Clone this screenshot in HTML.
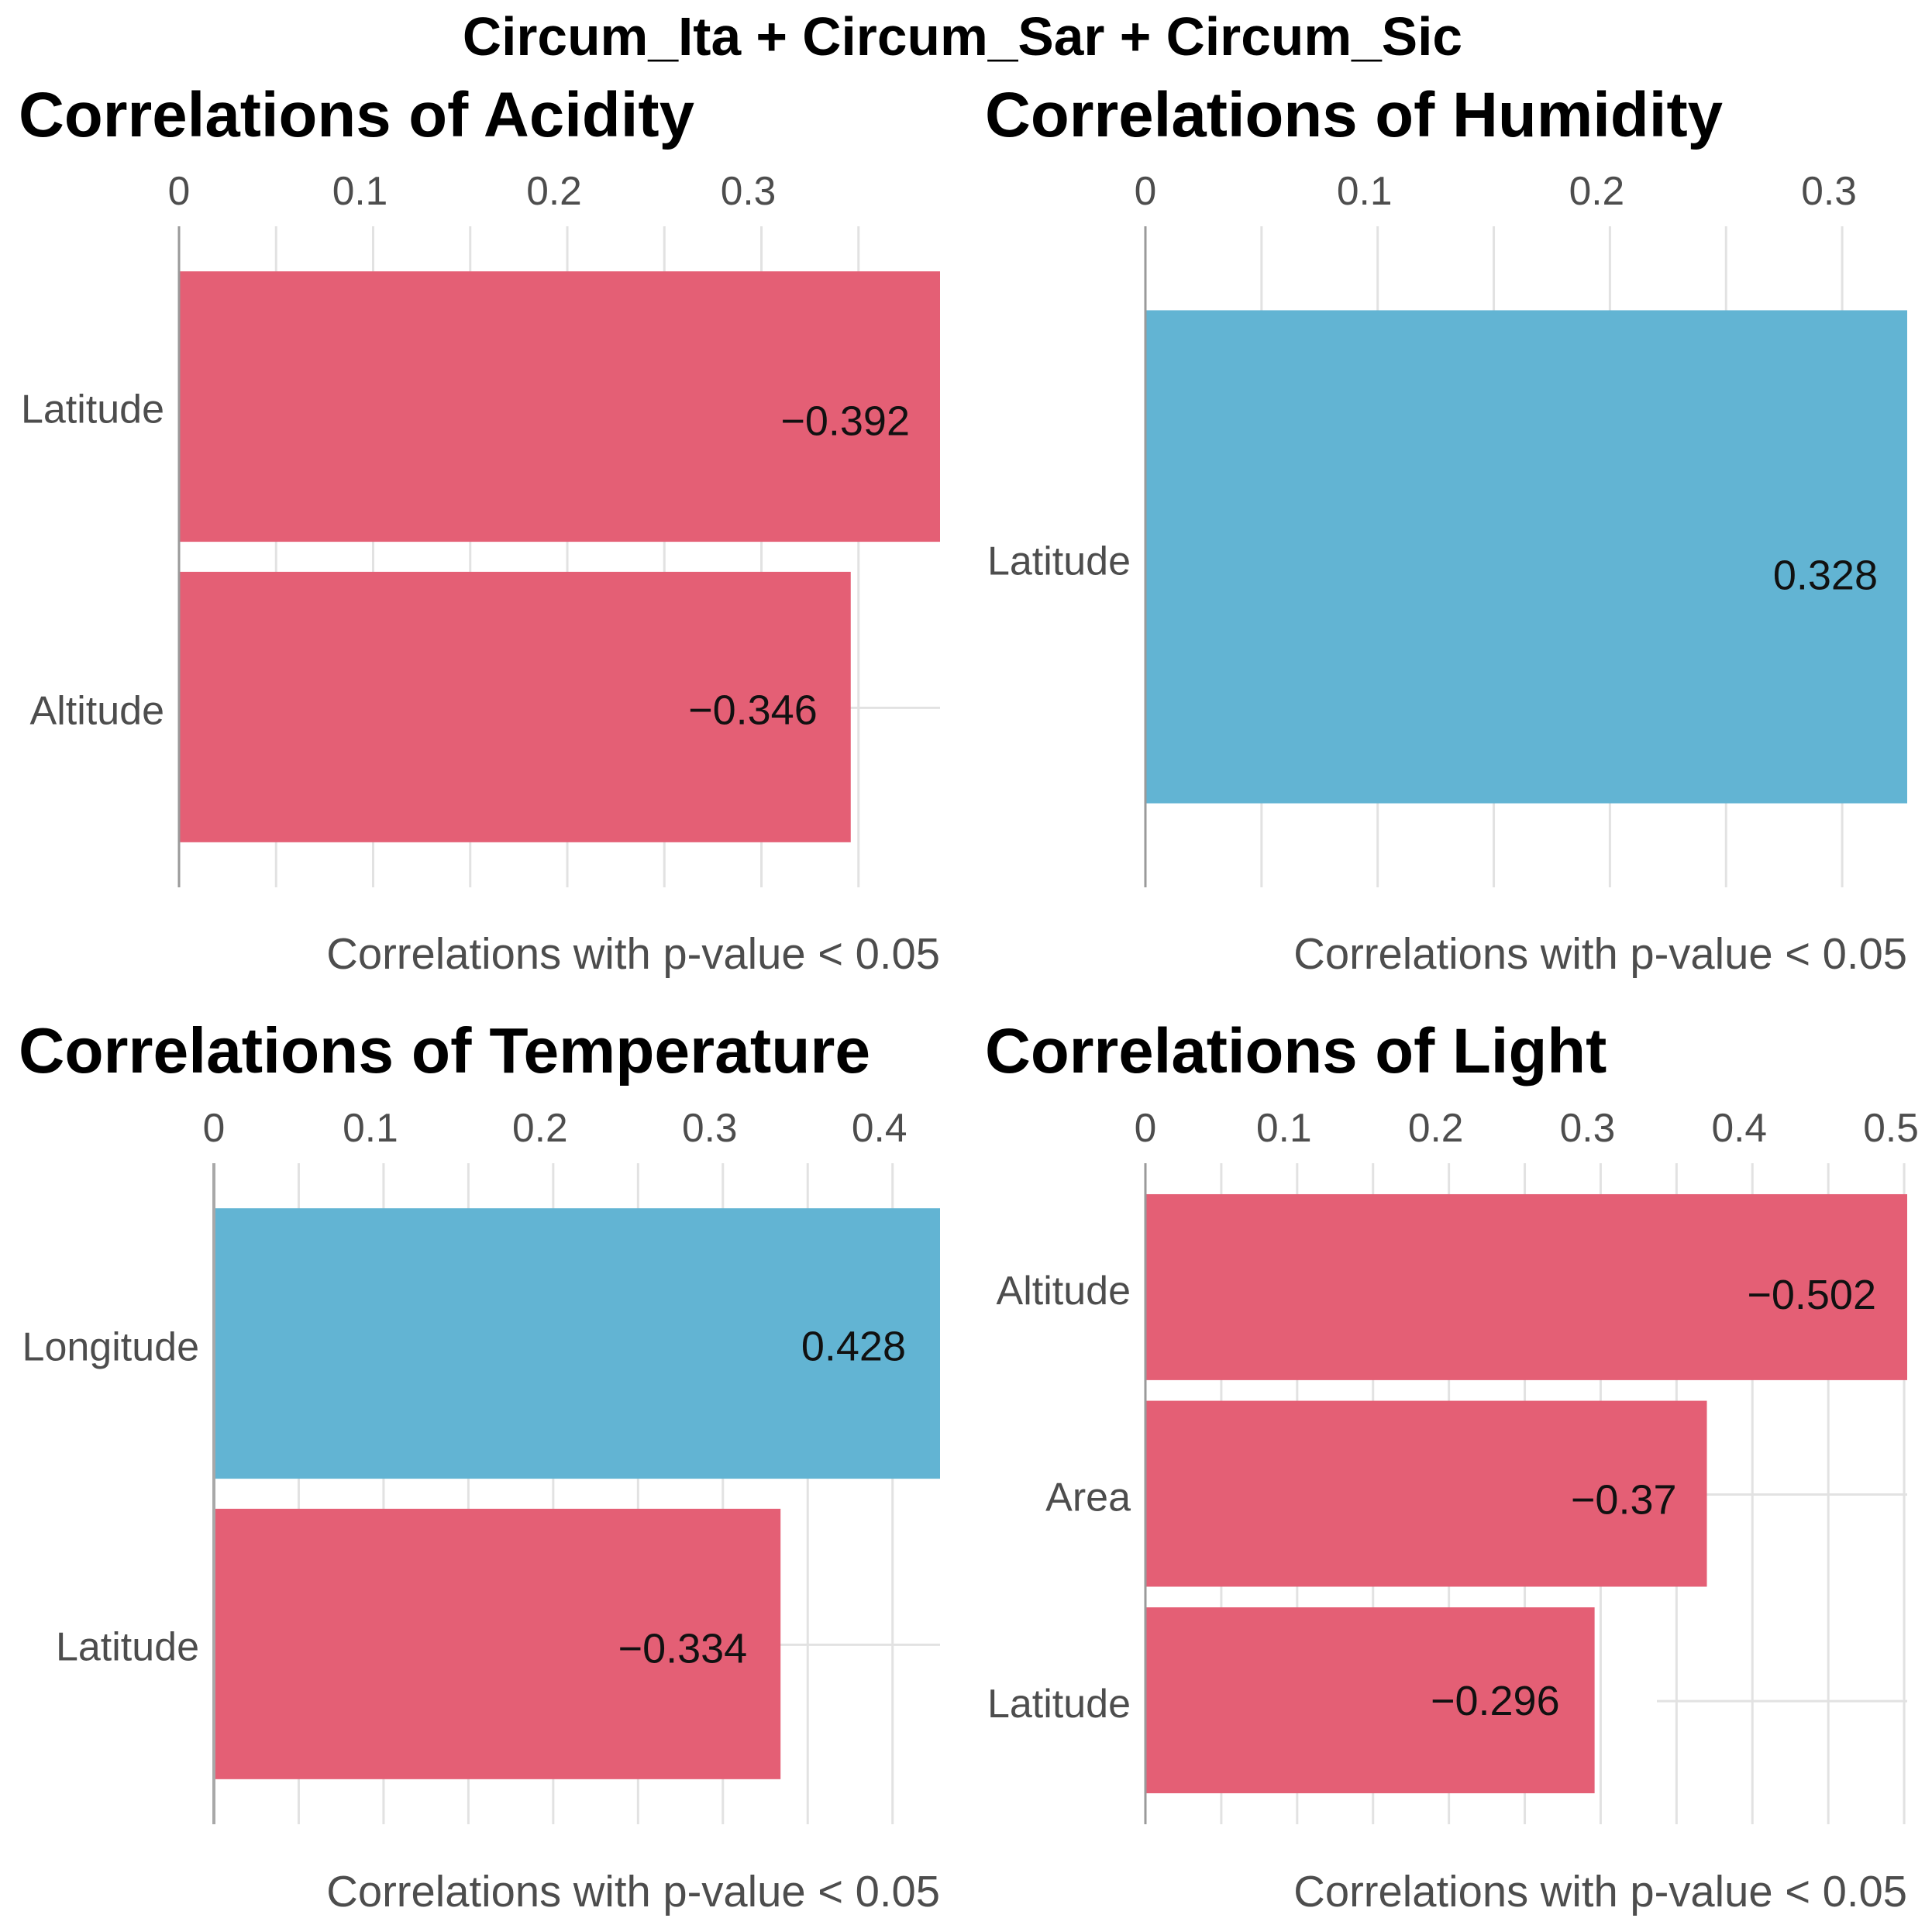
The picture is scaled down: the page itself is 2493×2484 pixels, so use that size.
<!DOCTYPE html>
<html lang="en">
<head>
<meta charset="utf-8">
<title>Circum_Ita + Circum_Sar + Circum_Sic</title>
<style>
  html, body { margin: 0; padding: 0; background: #fff; }
  svg { display: block; font-family: "Liberation Sans", sans-serif; }
</style>
</head>
<body>
<svg id="figure" xmlns="http://www.w3.org/2000/svg" width="2493" height="2484" viewBox="0 0 2493 2484">
  <rect x="0" y="0" width="2493" height="2484" fill="#ffffff"/>
  <text x="1242" y="71" text-anchor="middle" font-size="69.5" font-weight="700" fill="#000">Circum_Ita + Circum_Sar + Circum_Sic</text>
  <g id="panel-acidity">
    <text x="24" y="176" font-size="81.6" font-weight="700" fill="#000">Correlations of Acidity</text>
    <text x="1213" y="1250" text-anchor="end" font-size="56.2" fill="#4d4d4d">Correlations with p-value &lt; 0.05</text>
  </g>
  <g id="panel-humidity">
    <text x="1271" y="176" font-size="81.6" font-weight="700" fill="#000">Correlations of Humidity</text>
    <text x="2461" y="1250" text-anchor="end" font-size="56.2" fill="#4d4d4d">Correlations with p-value &lt; 0.05</text>
  </g>
  <g id="panel-temperature">
    <text x="24" y="1384" font-size="82.2" font-weight="700" fill="#000">Correlations of Temperature</text>
    <text x="1213" y="2460" text-anchor="end" font-size="56.2" fill="#4d4d4d">Correlations with p-value &lt; 0.05</text>
  </g>
  <g id="panel-light">
    <text x="1271" y="1384" font-size="81.6" font-weight="700" fill="#000">Correlations of Light</text>
    <text x="2461" y="2460" text-anchor="end" font-size="56.2" fill="#4d4d4d">Correlations with p-value &lt; 0.05</text>
  </g>
</svg>
<script>
// ---- chart data ----
const acidityCategories = ['Latitude', 'Altitude'];
const acidityValues = [-0.392, -0.346];
const acidityTicks = [0, 0.1, 0.2, 0.3];
const acidityGridBreaks = [0.05, 0.1, 0.15, 0.2, 0.25, 0.3, 0.35];

const humidityCategories = ['Latitude'];
const humidityValues = [0.328];
const humidityTicks = [0, 0.1, 0.2, 0.3];
const humidityGridBreaks = [0.05, 0.1, 0.15, 0.2, 0.25, 0.3];

const temperatureCategories = ['Longitude', 'Latitude'];
const temperatureValues = [0.428, -0.334];
const temperatureTicks = [0, 0.1, 0.2, 0.3, 0.4];
const temperatureGridBreaks = [0.05, 0.1, 0.15, 0.2, 0.25, 0.3, 0.35, 0.4];

const lightCategories = ['Altitude', 'Area', 'Latitude'];
const lightValues = [-0.502, -0.37, -0.296];
const lightTicks = [0, 0.1, 0.2, 0.3, 0.4, 0.5];
const lightGridBreaks = [0.05, 0.1, 0.15, 0.2, 0.25, 0.3, 0.35, 0.4, 0.45, 0.5];

// ---- panel layout ----
const SVG_NS = 'http://www.w3.org/2000/svg';
const RED = '#e45f75';
const BLUE = '#62b4d3';
const GRID = '#e2e2e2';
const AXIS_TEXT = '#4d4d4d';

const panelLayouts = [
  { key: 'acidity', categories: acidityCategories, values: acidityValues, ticks: acidityTicks, grid: acidityGridBreaks,
    domainMax: 0.392, left: 231, right: 1213, top: 292, height: 853, barFraction: 0.9, zeroWidth: 3, zeroColor: '#9a9a9a',
    labelNudge: [3, 4], valueNudge: [19, 4], valueGap: [39, 43], hGridFrom: [null, null] },
  { key: 'humidity', categories: humidityCategories, values: humidityValues, ticks: humidityTicks, grid: humidityGridBreaks,
    domainMax: 0.328, left: 1478, right: 2461, top: 292, height: 853, barFraction: 0.895, zeroWidth: 3, zeroColor: '#9a9a9a',
    labelNudge: [5], valueNudge: [24], valueGap: [38], hGridFrom: [null] },
  { key: 'temperature', categories: temperatureCategories, values: temperatureValues, ticks: temperatureTicks, grid: temperatureGridBreaks,
    domainMax: 0.428, left: 276, right: 1213, top: 1501, height: 853, barFraction: 0.9, zeroWidth: 4, zeroColor: '#a8a8a8',
    labelNudge: [4, 3], valueNudge: [4, 6], valueGap: [44, 43], hGridFrom: [null, null] },
  { key: 'light', categories: lightCategories, values: lightValues, ticks: lightTicks, grid: lightGridBreaks,
    domainMax: 0.502, left: 1478, right: 2461, top: 1501, height: 853, barFraction: 0.9, zeroWidth: 3, zeroColor: '#9a9a9a',
    labelNudge: [4, 4, 4], valueNudge: [10, 8, 1], valueGap: [40, 39, 45], hGridFrom: [null, null, 2138] }
];

function svgNode(tag, attrs, parent) {
  const node = document.createElementNS(SVG_NS, tag);
  Object.keys(attrs).forEach(function (k) { node.setAttribute(k, attrs[k]); });
  parent.appendChild(node);
  return node;
}

function drawPanel(p) {
  const group = document.getElementById('panel-' + p.key);
  const xScale = function (v) { return p.left + (v / p.domainMax) * (p.right - p.left); };
  const unit = p.height / (p.categories.length + 0.2);
  const yCenter = function (i) { return p.top + (i + 0.6) * unit; };
  const barHeight = p.barFraction * unit;
  const bottom = p.top + p.height;

  // vertical grid lines
  p.grid.forEach(function (g) {
    const line = svgNode('line', { x1: xScale(g), x2: xScale(g), y1: p.top, y2: bottom, stroke: GRID, 'stroke-width': 3 }, group);
    
    
  });

  // horizontal grid lines
  p.categories.forEach(function (c, i) {
    const from = p.hGridFrom[i] === null ? p.left : p.hGridFrom[i];
    const line = svgNode('line', { x1: from, x2: p.right, y1: yCenter(i) + 1, y2: yCenter(i) + 1, stroke: GRID, 'stroke-width': 3 }, group);
    
    
  });

  // bars
  p.values.forEach(function (v, i) {
    const bar = svgNode('rect', { x: xScale(0), y: yCenter(i) - barHeight / 2, width: xScale(Math.abs(v)) - xScale(0), height: barHeight, fill: v < 0 ? RED : BLUE }, group);
    
    
  });

  // zero axis line
  const zero = svgNode('line', { x1: xScale(0), x2: xScale(0), y1: p.top, y2: bottom, stroke: p.zeroColor, 'stroke-width': p.zeroWidth }, group);
  
  

  // x tick labels (along the top)
  p.ticks.forEach(function (t) {
    const label = svgNode('text', { x: xScale(t) - (t === 0 ? 0 : 17), y: p.top - 28, 'text-anchor': 'middle', 'font-size': 51.5, fill: AXIS_TEXT }, group);
    label.textContent = String(t);
    
    
  });

  // category labels
  p.categories.forEach(function (c, i) {
    const label = svgNode('text', { x: xScale(0) - 19, y: yCenter(i) + p.labelNudge[i] + 18, 'text-anchor': 'end', 'font-size': 52, fill: AXIS_TEXT }, group);
    label.textContent = c;
    
    
  });

  // printed values on the bars
  p.values.forEach(function (v, i) {
    const label = svgNode('text', { x: xScale(Math.abs(v)) - p.valueGap[i], y: yCenter(i) + p.valueNudge[i] + 18, 'text-anchor': 'end', 'font-size': 54, fill: '#111111' }, group);
    label.textContent = String(v).replace('-', '\u2212');
    
    
  });
}

panelLayouts.forEach(drawPanel);
</script>
</body>
</html>
